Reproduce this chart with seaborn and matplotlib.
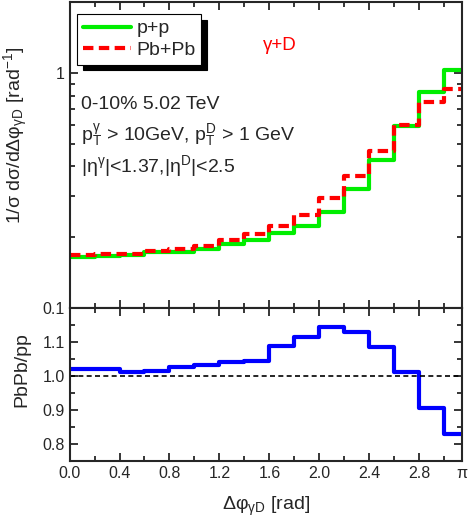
import numpy as np
import pandas as pd
import seaborn as sns
import matplotlib.pyplot as plt
from matplotlib.ticker import FixedLocator, LogLocator, NullFormatter, MultipleLocator

# Delta phi bins (last bin closes at pi)
edges = [0.0, 0.2, 0.4, 0.6, 0.8, 1.0, 1.2, 1.4, 1.6, 1.8, 2.0, 2.2, 2.4, 2.6, 2.8, 3.0, np.pi]

# normalized distributions
pp = [0.165, 0.166, 0.168, 0.172, 0.173, 0.177, 0.186, 0.195,
      0.207, 0.223, 0.256, 0.321, 0.427, 0.592, 0.831, 1.030]
pbpb = [0.168, 0.169, 0.170, 0.174, 0.178, 0.183, 0.194, 0.205,
        0.222, 0.249, 0.293, 0.363, 0.463, 0.597, 0.753, 0.853]
ratio = [1.019, 1.019, 1.012, 1.014, 1.025, 1.032, 1.041, 1.044,
         1.088, 1.113, 1.142, 1.128, 1.085, 1.012, 0.906, 0.828]

xticks = [0.0, 0.4, 0.8, 1.2, 1.6, 2.0, 2.4, 2.8, np.pi]
xticklabels = ["0.0", "0.4", "0.8", "1.2", "1.6", "2.0", "2.4", "2.8", "π"]
xminor = [0.2, 0.6, 1.0, 1.4, 1.8, 2.2, 2.6, 3.0]

centers = 0.5 * (np.array(edges[:-1]) + np.array(edges[1:]))
df = pd.DataFrame({"dphi": centers, "pp": pp, "pbpb": pbpb, "ratio": ratio})

sns.set_style("ticks")
plt.rcParams["font.family"] = ["Liberation Sans", "DejaVu Sans"]
plt.rcParams["mathtext.default"] = "regular"

fig = plt.figure(figsize=(4.71, 5.26), dpi=100)
ax1 = fig.add_axes([0.1476, 0.415, 0.8335, 0.581])
ax2 = fig.add_axes([0.1476, 0.1236, 0.8335, 0.2914])

# upper panel: distributions
sns.histplot(data=df, x="dphi", weights="pp", bins=edges, element="step", fill=False,
             color="#00ee00", linewidth=3, ax=ax1, label="p+p")
sns.histplot(data=df, x="dphi", weights="pbpb", bins=edges, element="step", fill=False,
             color="#ff0000", linewidth=3, linestyle=(0, (2.5, 1.3)), ax=ax1, label="Pb+Pb")
ax1.set_yscale("log")
ax1.set_ylim(0.1, 2.0)
ax1.set_xlim(0, np.pi)

# lower panel: ratio
sns.histplot(data=df, x="dphi", weights="ratio", bins=edges, element="step", fill=False,
             color="#0000ff", linewidth=3, ax=ax2)
ax2.axhline(1.0, color="black", linewidth=1.2, linestyle=(0, (3, 2)))
ax2.set_xlim(0, np.pi)
ax2.set_ylim(0.75, 1.2)

for ax in (ax1, ax2):
    ax.set_xticks(xticks)
    ax.xaxis.set_minor_locator(FixedLocator(xminor))
    ax.tick_params(which="both", direction="in", top=True, right=True, width=1.3,
                   labelsize=11.5)
    ax.tick_params(which="major", length=6)
    ax.tick_params(which="minor", length=3.5)
    for s in ax.spines.values():
        s.set_linewidth(1.5)

ax1.set_xticklabels([])
ax1.yaxis.set_major_locator(FixedLocator([0.1, 1.0]))
ax1.set_yticklabels(["0.1", "1"])
ax1.yaxis.set_minor_locator(LogLocator(base=10, subs=np.arange(2, 10)))
ax1.yaxis.set_minor_formatter(NullFormatter())
ax1.set_xlabel("")
ax1.set_ylabel("1/σ dσ/dΔφ$_{γD}$ [rad$^{-1}$]", fontsize=14)
ax1.yaxis.set_label_coords(-0.10, 0.565)

ax2.set_xticklabels(xticklabels)
ax2.set_yticks([0.8, 0.9, 1.0, 1.1])
ax2.set_yticklabels(["0.8", "0.9", "1.0", "1.1"])
ax2.yaxis.set_minor_locator(MultipleLocator(0.05))
ax2.set_ylabel("PbPb/pp", fontsize=14)
ax2.yaxis.set_label_coords(-0.10, 0.594)
ax2.set_xlabel("Δφ$_{γD}$ [rad]", fontsize=14, labelpad=10)

leg = ax1.legend(loc="upper left", bbox_to_anchor=(0.019, 0.961), borderaxespad=0,
                 fontsize=14, handlelength=2.5, handletextpad=0.25, borderpad=0.3,
                 labelspacing=0.2, fancybox=False, framealpha=1, edgecolor="black",
                 shadow={"color": "black", "alpha": 1, "ox": 4, "oy": -4})
leg.get_frame().set_linewidth(0.8)

ax1.text(0.536, 0.859, "γ+D", color="#ff0000", fontsize=13.5, ha="center", va="center",
         transform=ax1.transAxes)
ax1.text(0.029, 0.666, "0-10% 5.02 TeV", fontsize=14, va="center", transform=ax1.transAxes)
ax1.text(0.029, 0.565, "$p_T^{γ}$ > 10GeV, $p_T^{D}$ > 1 GeV", fontsize=14, va="center",
         transform=ax1.transAxes)
ax1.text(0.029, 0.463, "$|η^{γ}|$<1.37,$|η^{D}|$<2.5", fontsize=14, va="center",
         transform=ax1.transAxes)

fig.savefig("out.png", dpi=100)
